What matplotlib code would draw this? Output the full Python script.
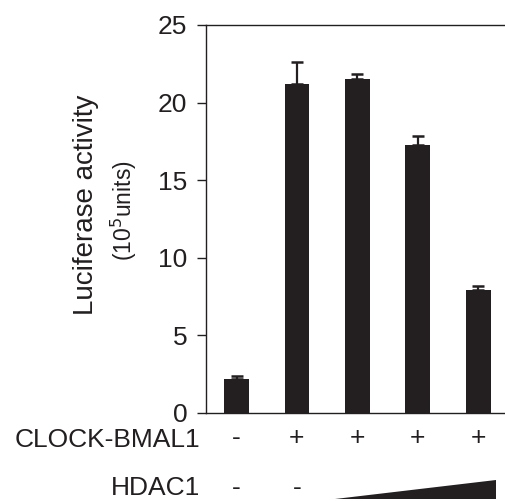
import matplotlib
matplotlib.use("Agg")
import matplotlib.pyplot as plt
from matplotlib.patches import Polygon
from matplotlib.transforms import blended_transform_factory

plt.rcParams['font.family'] = ['Liberation Sans', 'DejaVu Sans']

# Daten
activity = [2.2, 21.2, 21.5, 17.3, 7.9]
activity_err = [0.2, 1.4, 0.35, 0.55, 0.3]
clock_bmal1 = ['-', '+', '+', '+', '+']
hdac1 = ['-', '-']
y_ticks = [0, 5, 10, 15, 20, 25]

INK = '#231f20'

fig = plt.figure(figsize=(5.06, 5.01), dpi=100)
ax = fig.add_axes([206 / 506, 88 / 501, 300 / 506, 388 / 501])

x = list(range(len(activity)))
ax.bar(x, activity, width=0.41, color=INK, zorder=2)
# nur obere Fehlerbalken
ax.errorbar(x, activity, yerr=[[0] * len(activity_err), activity_err],
            fmt='none', ecolor=INK, elinewidth=1.6, capsize=4, capthick=1.8, zorder=3)

ax.set_xlim(-0.505, 4.46)
ax.set_ylim(0, 25)
ax.set_yticks(y_ticks)
ax.set_xticks([])
ax.tick_params(axis='y', direction='out', length=6.5, width=1.0, color=INK,
               labelsize=19, pad=7, labelcolor=INK)

# Achsen: links, oben und unten, kein rechter Rahmen
ax.spines['right'].set_visible(False)
for s in ['left', 'top', 'bottom']:
    ax.spines[s].set_color(INK)
    ax.spines[s].set_linewidth(1.0)
ax.spines['left'].set_zorder(4)

# y-Achsenbeschriftung (zwei Zeilen)
fig.text(86 / 506, 1 - 205 / 501, 'Luciferase activity', rotation=90,
         ha='center', va='center', fontsize=20, color=INK)
fig.text(124 / 506, 1 - 211 / 501, r'(10$^{5}$units)', rotation=90,
         ha='center', va='center', fontsize=16.5, color=INK)

# Zeilen unter der Achse
trans = blended_transform_factory(ax.transData, ax.transAxes)
row1_y = -25 / 388
row2_y = -75 / 388
fig.text(200 / 506, 1 - 440 / 501, 'CLOCK-BMAL1', ha='right', va='center',
         fontsize=19, color=INK)
fig.text(200 / 506, 1 - 488 / 501, 'HDAC1', ha='right', va='center',
         fontsize=19, color=INK)
for xi, sign in zip(x, clock_bmal1):
    ax.text(xi, row1_y, sign, transform=trans, ha='center', va='center',
            fontsize=19, color=INK, clip_on=False)
for xi, sign in zip(x, hdac1):
    ax.text(xi, row2_y, sign, transform=trans, ha='center', va='center',
            fontsize=19, color=INK, clip_on=False)

# Keil fuer steigende HDAC1-Menge
wedge = Polygon([(1.63, -86 / 388), (4.30, -86 / 388), (4.30, -67 / 388)],
                closed=True, transform=trans, facecolor=INK, edgecolor='none',
                clip_on=False)
ax.add_patch(wedge)

fig.savefig('out.png', dpi=100)
